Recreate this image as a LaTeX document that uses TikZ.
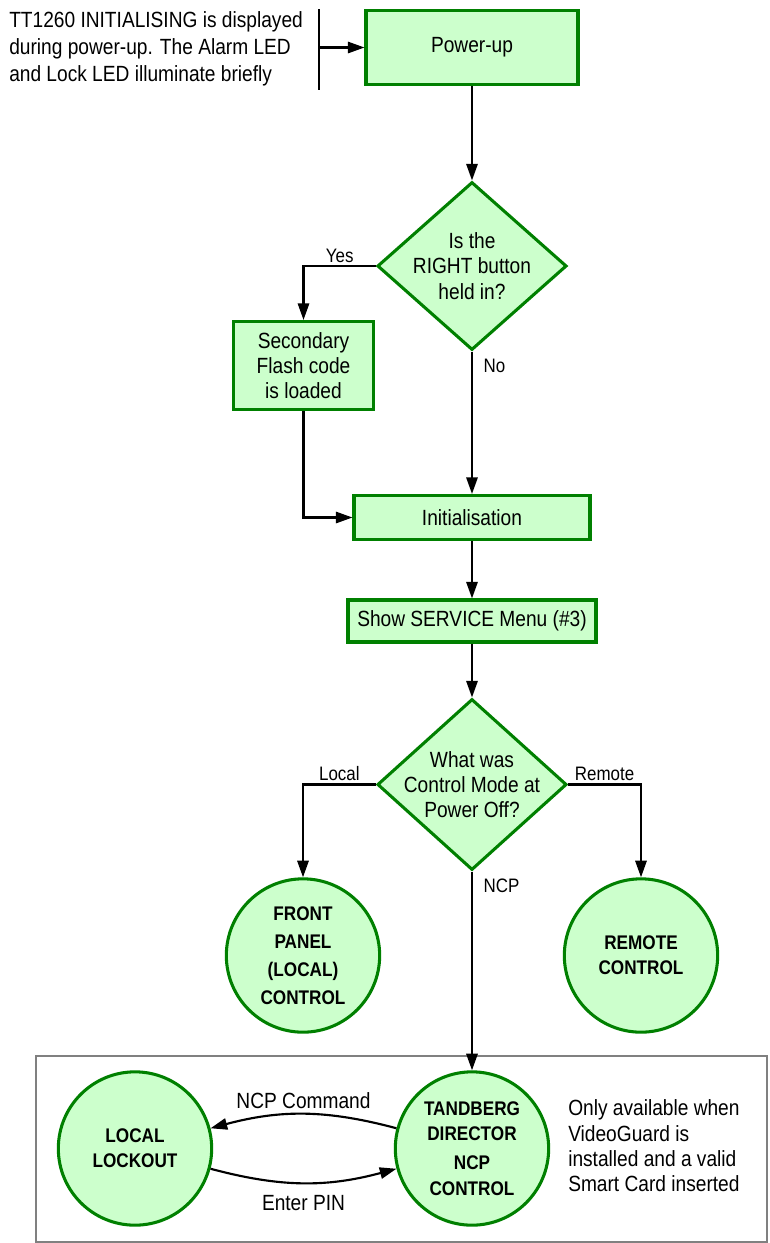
\documentclass[tikz,border=0pt]{standalone}
\usepackage{fontspec}
\setmainfont{Liberation Sans}[FakeStretch=0.87]
\usetikzlibrary{arrows.meta,shapes.geometric}
\definecolor{boxgreen}{RGB}{0,128,0}
\definecolor{boxfill}{RGB}{204,255,204}
\definecolor{framegray}{RGB}{128,128,128}
\newcommand{\txtfont}{\fontsize{16.5pt}{19pt}\selectfont}
\newcommand{\labfont}{\fontsize{14.6pt}{17pt}\selectfont}
\newcommand{\modefont}{\bfseries\fontsize{14.8pt}{19pt}\selectfont}
\tikzstyle{post}=[-{Triangle[length=12.5pt,width=8.5pt]},line width=1.6pt]
\tikzstyle{block}=[rectangle,draw=boxgreen,fill=boxfill,line width=2.3pt,align=center,font=\txtfont,inner sep=1pt]
\tikzstyle{decision}=[diamond,draw=boxgreen,fill=boxfill,line width=2.3pt,align=center,font=\txtfont,inner sep=-6pt,minimum width=142pt,minimum height=126pt]
\tikzstyle{mode}=[circle,draw=boxgreen,fill=boxfill,line width=2.3pt,align=center,font=\modefont,inner sep=0pt,minimum size=115pt]
\tikzstyle{lbl}=[font=\labfont,inner sep=2pt]
\begin{document}
\begin{tikzpicture}[x=0.75pt,y=-0.75pt]
    \useasboundingbox (0,0) rectangle (770,1243);

    \node[font=\fontsize{16.5pt}{20.25pt}\selectfont,align=left,anchor=west,inner sep=0pt] (note) at (9,49)
        {TT1260 INITIALISING is displayed\\during power-up. The Alarm LED\\and Lock LED illuminate briefly};
    \coordinate (bartop) at (319,9);
    \coordinate (barbot) at (319,90);

    \node[block,minimum width=159pt,minimum height=56pt] (pwr) at (472,47.5) {Power-up};
    \node[decision] (q1) at (472,266) {Is the\\RIGHT button\\held in?};
    \node[block,minimum width=105pt,minimum height=66pt] (sec) at (303.5,365.5) {Secondary\\Flash code\\is loaded};
    \node[block,minimum width=177pt,minimum height=33pt] (ini) at (472,517.5) {Initialisation};
    \node[block,minimum width=186pt,minimum height=31.5pt] (menu) at (472,621) {Show SERVICE Menu (\#3)};
    \node[decision] (q2) at (472,784.5) {What was\\Control Mode at\\Power Off?};
    \node[mode] (fpl) at (303,955.5) {FRONT\\[2pt]PANEL\\[2pt](LOCAL)\\[2pt]CONTROL};
    \node[mode] (rmc) at (641,955.5) {REMOTE\\CONTROL};

    % NCP area
    \draw[draw=framegray,line width=1.2pt] (36,1056) rectangle (767,1242);
    \node[mode] (llo) at (135,1148.5) {LOCAL\\LOCKOUT};
    \node[mode] (tdc) at (472,1148.5) {TANDBERG\\DIRECTOR\\[3pt]NCP\\CONTROL};
    \node[font=\txtfont,align=left,anchor=west,inner sep=0pt] (avail) at (568,1146)
        {Only available when\\VideoGuard is\\installed and a valid\\Smart Card inserted};

    \draw[line width=1.6pt] (bartop) -- (barbot);
    \draw[post] (bartop |- pwr.west) -- (pwr.west);
    \draw[post] (pwr.south) -- (q1.north);
    \draw[post] (q1.west) -| node[lbl,pos=0.25,above] {Yes} (sec.north);
    \draw[post] (q1.south) -- node[lbl,pos=0.1,right=6pt] {No} (ini.north);
    \draw[post] (sec.south) |- (ini.west);
    \draw[post] (ini.south) -- (menu.north);
    \draw[post] (menu.south) -- (q2.north);
    \draw[post] (q2.west) -| node[lbl,pos=0.25,above] {Local} (fpl.north);
    \draw[post] (q2.east) -| node[lbl,pos=0.25,above] {Remote} (rmc.north);
    \draw[post] (q2.south) -- node[lbl,pos=0.07,right=6pt] {NCP} (tdc.north);

    \draw[post] (tdc.165) to[bend right=15] node[font=\txtfont,above] {NCP Command} (llo.15);
    \draw[post] (llo.-15) to[bend right=15] node[font=\txtfont,below=5pt] {Enter PIN} (tdc.-165);

\end{tikzpicture}
\end{document}
